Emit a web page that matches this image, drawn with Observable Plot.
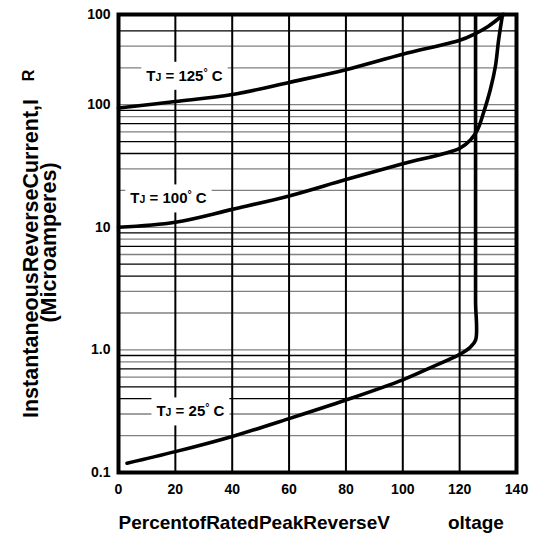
<!DOCTYPE html>
<html><head><meta charset="utf-8">
<script src="https://cdn.jsdelivr.net/npm/d3@7"></script>
<script src="https://cdn.jsdelivr.net/npm/@observablehq/plot@0.6"></script>
<style>
html,body{margin:0;padding:0;background:#fff;}
svg text{white-space:pre;}
</style></head><body><div id="chart"></div>
<script>
// ---- data ----
const xTicks = [0, 20, 40, 60, 80, 100, 120, 140];
const yTicks = [0.1, 1, 10, 100, 544];
const yTickLabels = ["0.1", "1.0", "10", "100", "100"];
const yDomain = [0.1, 544];
const xGrid = [20, 40, 60, 80, 100, 120];
const yGrid = [0.2, 0.3, 0.4, 0.5, 0.6, 0.7, 0.8, 0.9, 1,
               2, 3, 4, 5, 6, 7, 8, 9, 10,
               20, 30, 40, 50, 60, 70, 80, 90, 100,
               200, 300, 400];

const x25 = [3, 20, 40, 60, 80, 100, 110, 120, 123.5, 125.6, 125.6, 125.6, 125.6, 125.6];
const y25 = [0.119, 0.148, 0.197, 0.275, 0.39, 0.57, 0.72, 0.92, 1.04, 1.2, 2.5, 10, 100, 544];

const x100 = [0, 20, 40, 60, 80, 100, 120, 123.8, 126.3, 128.4, 130.8, 132.6, 133.7, 135.1];
const y100 = [10, 11, 14, 18, 24.5, 33, 44, 51.5, 62.6, 86, 133, 207, 336, 544];

const x125 = [0, 20, 40, 60, 80, 100, 120, 125, 130, 135.5];
const y125 = [94, 106, 121, 152, 193, 258, 335, 375, 435, 544];

const labelText = ["TJ = 125° C", "TJ = 100° C", "TJ = 25° C"];
const labelX = [23.2, 17.6, 25.3];
const labelY = [172, 17.2, 0.315];

const xTitle = "PercentofRatedPeakReverseV           oltage";
const yTitle1 = "InstantaneousReverseCurrent,I";
const yTitle1b = "R";
const yTitle2 = "(Microamperes)";

// ---- build ----
const rows = [];
x25.forEach((x, i) => rows.push({s: "25", x, y: y25[i]}));
x100.forEach((x, i) => rows.push({s: "100", x, y: y100[i]}));
x125.forEach((x, i) => rows.push({s: "125", x, y: y125[i]}));
const labels = labelText.map((t, i) => ({t, x: labelX[i], y: labelY[i]}));
const yTickRows = yTicks.map((v, i) => ({v, t: yTickLabels[i]}));

const grayMant = new Set([2, 3, 6, 8, 1]);
function mant(v) { return Math.round(v / Math.pow(10, Math.floor(Math.log10(v) + 1e-9))); }

const font = "'Liberation Sans', Arial, Helvetica, sans-serif";
const chart = Plot.plot({
  width: 537, height: 533,
  marginLeft: 118, marginRight: 21, marginTop: 14, marginBottom: 61,
  style: {fontFamily: font, fontWeight: "bold", fontSize: "14px", color: "#000", background: "#fff", overflow: "visible"},
  x: {domain: [0, 140], ticks: xTicks, tickSize: 0, tickPadding: 12, label: null},
  y: {type: "log", domain: yDomain, axis: null, label: null},
  marks: [
    Plot.ruleY(yGrid, {stroke: d => grayMant.has(mant(d)) ? "#808080" : "#000", strokeWidth: 1.3}),
    Plot.ruleX(xGrid, {stroke: "#000", strokeWidth: 2}),
    Plot.line(rows, {x: "x", y: "y", z: "s", curve: "catmull-rom", stroke: "#000", strokeWidth: 3.6}),
    Plot.text(labels, {x: "x", y: "y", text: "t", fontSize: 15, fontWeight: "bold", fill: "#000"}),
    Plot.frame({stroke: "#000", strokeWidth: 4}),
    Plot.text(yTickRows, {y: "v", text: "t", frameAnchor: "left", textAnchor: "end", dx: -8, fontSize: 14, fontWeight: "bold", fill: "#000"}),
    Plot.text([xTitle], {frameAnchor: "bottom-left", textAnchor: "start", lineAnchor: "bottom", dy: 56, fontSize: 19, fontWeight: "bold"}),
    Plot.text([yTitle1], {frameAnchor: "left", rotate: -90, textAnchor: "middle", lineAnchor: "bottom", dx: -81, dy: 15, fontSize: 21.5, fontWeight: "bold"}),
    Plot.text([yTitle1b], {frameAnchor: "left", rotate: -90, textAnchor: "middle", lineAnchor: "bottom", dx: -85, dy: -168, fontSize: 16, fontWeight: "bold"}),
    Plot.text([yTitle2], {frameAnchor: "left", rotate: -90, textAnchor: "middle", lineAnchor: "bottom", dx: -63, dy: -1, fontSize: 21.5, fontWeight: "bold"})
  ]
});
document.getElementById("chart").appendChild(chart);

// rich labels: subscript J, small degree sign, white box behind
const NS = "http://www.w3.org/2000/svg";
const adv = {"T": 611, "J": 556, "=": 584, " ": 278, "°": 400, "C": 722, "0": 556, "1": 556, "2": 556, "5": 556};
const sx = chart.scale("x"), sy = chart.scale("y");
let li = 0;
chart.querySelectorAll("text").forEach(el => {
  const s = el.textContent;
  if (!s.startsWith("TJ")) return;
  const lab = labels[li++];
  const m = s.match(/^TJ( = \d+)° C$/);
  el.textContent = "";
  const parts = [["T", 15, 0], ["J", 10.5, 0], [m[1], 15, 0], ["°", 10.5, -5], [" C", 15, 5]];
  let w = 0;
  parts.forEach(([t, fs, dy]) => {
    const ts = document.createElementNS(NS, "tspan");
    ts.textContent = t;
    ts.setAttribute("font-size", fs);
    if (dy) ts.setAttribute("dy", dy);
    el.appendChild(ts);
    for (const ch of t) w += (adv[ch] || 556) * fs / 1000;
  });
  const cx = sx.apply(lab.x), cy = sy.apply(lab.y);
  const r = document.createElementNS(NS, "rect");
  r.setAttribute("x", cx - w / 2 - 5);
  r.setAttribute("y", cy - 14);
  r.setAttribute("width", w + 10);
  r.setAttribute("height", 28);
  r.setAttribute("fill", "#fff");
  r.setAttribute("stroke", "none");
  el.parentNode.insertBefore(r, el);
});
</script></body></html>
